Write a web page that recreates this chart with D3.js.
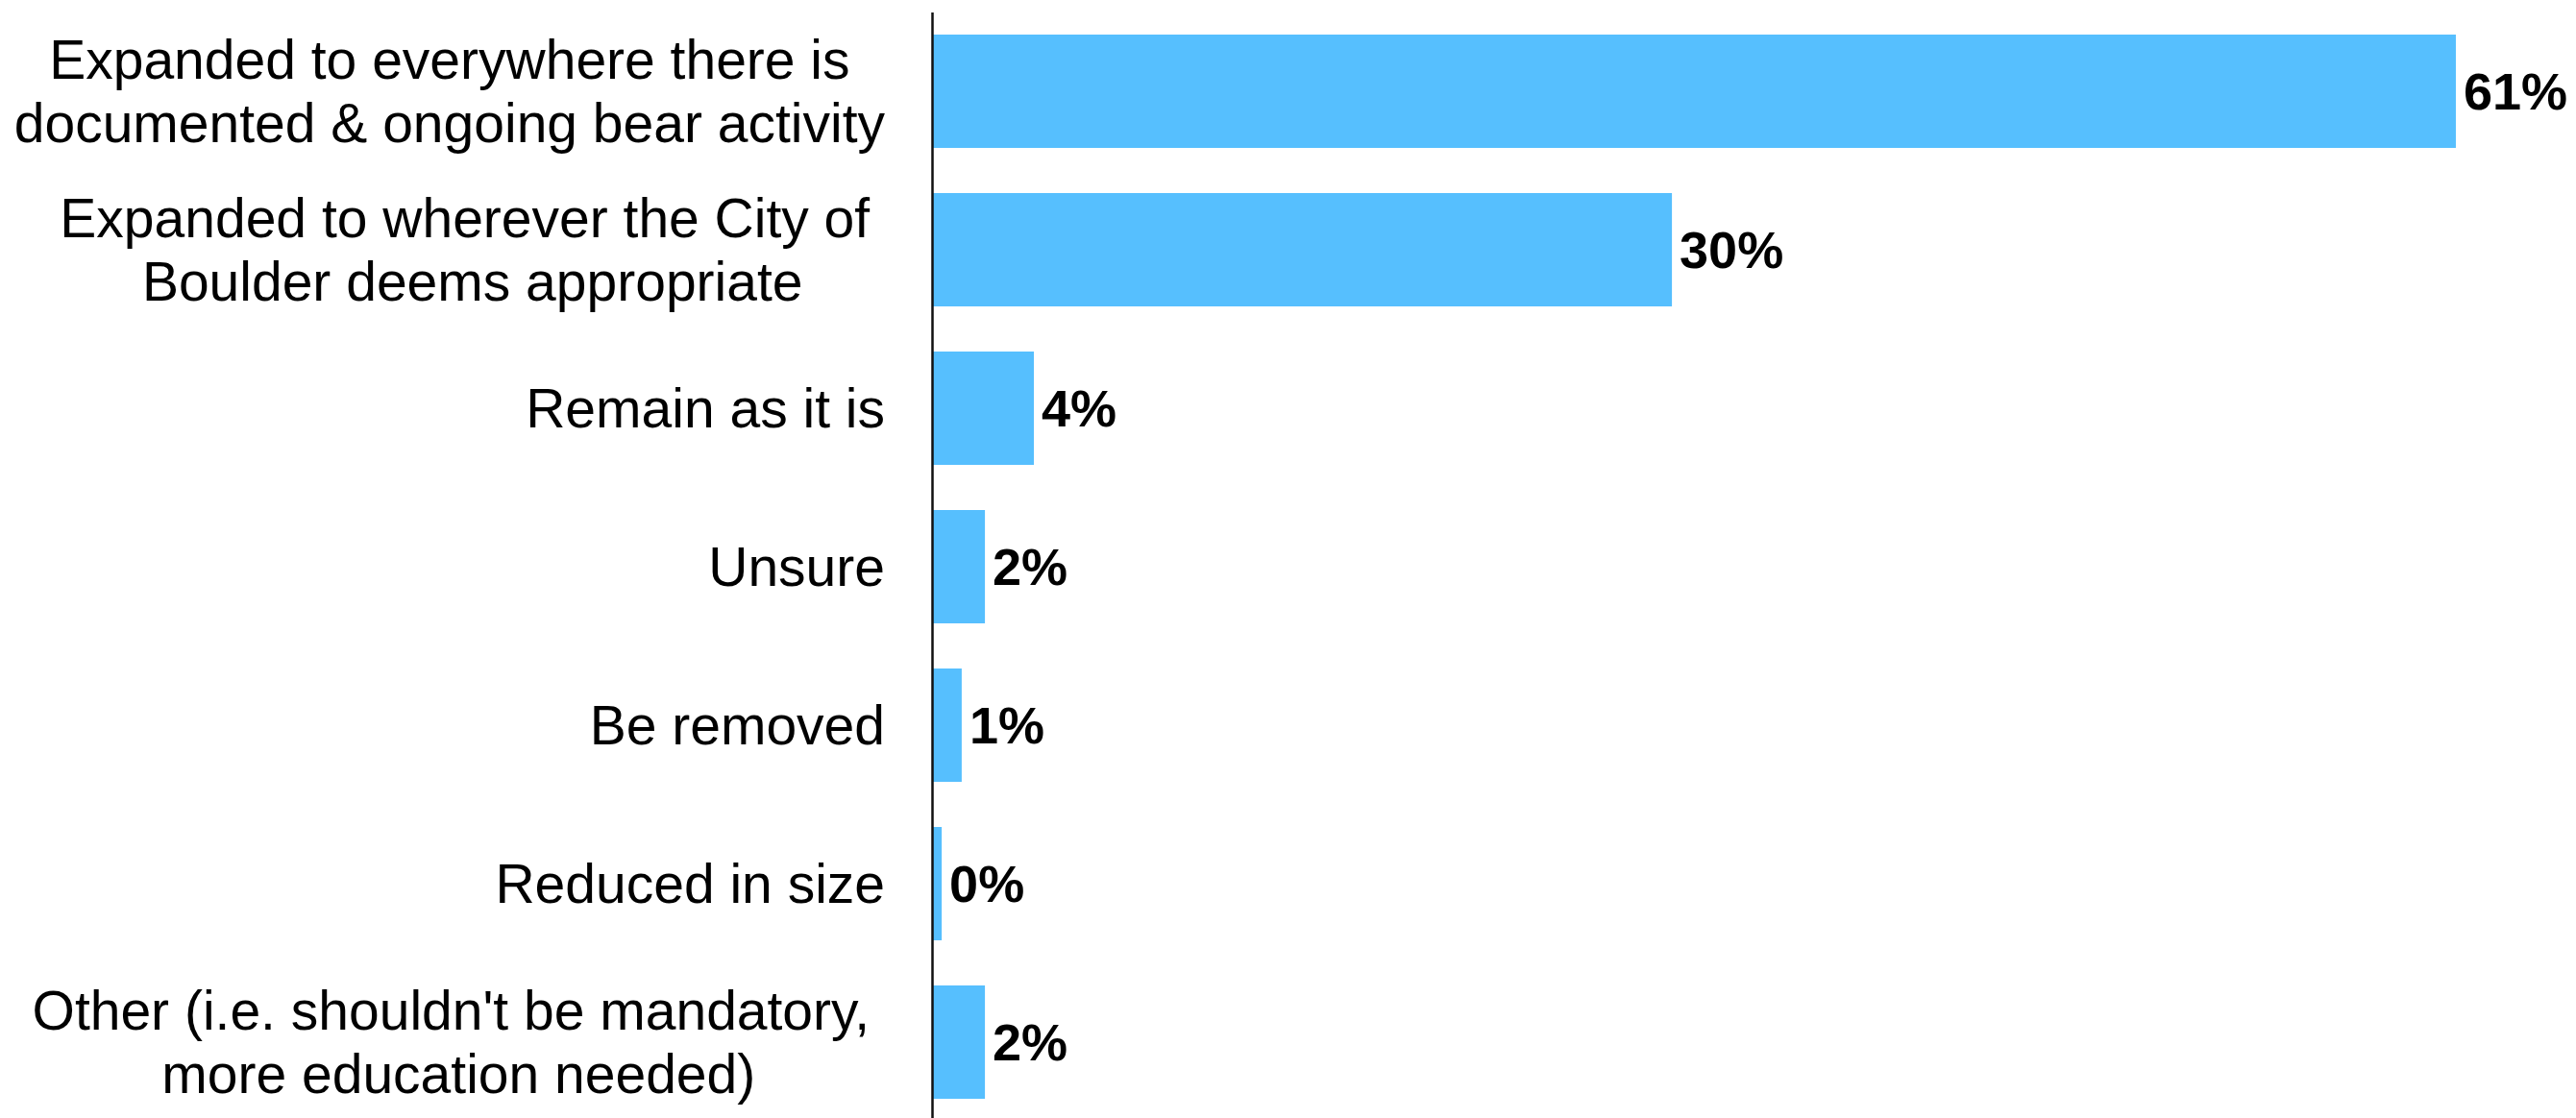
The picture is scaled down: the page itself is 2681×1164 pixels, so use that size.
<!DOCTYPE html>
<html>
<head>
<meta charset="utf-8">
<script src="https://cdn.jsdelivr.net/npm/d3@7"></script>
<style>
  html, body { margin: 0; padding: 0; background: #ffffff; }
  svg { display: block; }
  text { font-family: "Liberation Sans", Arial, Helvetica, sans-serif; }
</style>
</head>
<body>
<svg id="chart" width="2681" height="1164"></svg>
<script>
// ---- data ----
const categories = [
  ["Expanded to everywhere there is", "documented & ongoing bear activity"],
  ["Expanded to wherever the City of ", "Boulder deems appropriate"],
  ["Remain as it is"],
  ["Unsure"],
  ["Be removed"],
  ["Reduced in size"],
  ["Other (i.e. shouldn't be mandatory, ", "more education needed)"]
];
const values = [60.96, 29.58, 4.04, 2.08, 1.15, 0.35, 2.08];
const valueLabels = ["61%", "30%", "4%", "2%", "1%", "0%", "2%"];

// ---- layout ----
const W = 2681, H = 1164;
const svg = d3.select("#chart");
const x0 = 971;
const x = d3.scaleLinear().domain([0, 100]).range([x0, x0 + 2600]);
const y = d3.scaleBand()
  .domain(d3.range(categories.length))
  .range([12.5, 1167.5])
  .paddingInner(0.285)
  .paddingOuter(0.1425);

// bars
svg.append("g").selectAll("rect")
  .data(values)
  .join("rect")
  .attr("x", x(0))
  .attr("y", (d, i) => y(i))
  .attr("width", d => x(d) - x(0))
  .attr("height", y.bandwidth())
  .attr("fill", "#56BFFE");

// axis line
const axisG = svg.append("g")
  .attr("transform", `translate(${x0 - 1},0)`)
  .call(d3.axisLeft(y).tickSize(0).tickSizeOuter(0).tickFormat(""));
axisG.select(".domain").attr("stroke", "#111111").attr("stroke-width", 2.5);
axisG.selectAll(".tick").remove();

// value labels
svg.append("g").selectAll("text")
  .data(values)
  .join("text")
  .attr("x", d => x(d) + 8)
  .attr("y", (d, i) => y(i) + y.bandwidth() / 2)
  .attr("dy", "0.36em")
  .attr("font-size", 54)
  .attr("font-weight", "bold")
  .attr("fill", "#000")
  .text((d, i) => valueLabels[i]);

// category labels: centred multi-line blocks, right-aligned to a common edge
const rightEdge = 921;
const lineGap = 66;
const labelG = svg.append("g");
categories.forEach((lines, i) => {
  const cy = y(i) + y.bandwidth() / 2;
  const t = labelG.append("text")
    .attr("font-size", 57)
    .attr("fill", "#000")
    .attr("text-anchor", "middle")
    .style("white-space", "pre");
  const n = lines.length;
  const spans = lines.map((ln, k) =>
    t.append("tspan")
      .attr("y", cy + (k - (n - 1) / 2) * lineGap + 20)
      .text(ln)
  );
  const widest = d3.max(spans, s => s.node().getComputedTextLength());
  const cx = rightEdge - widest / 2;
  spans.forEach(s => s.attr("x", cx));
});
</script>
</body>
</html>
